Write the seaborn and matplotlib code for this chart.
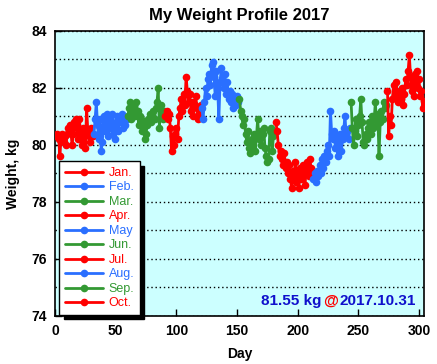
import matplotlib
matplotlib.use("Agg")
import matplotlib.pyplot as plt
import seaborn as sns
import pandas as pd
from matplotlib.lines import Line2D
from matplotlib.offsetbox import TextArea, HPacker, AnchoredOffsetbox

# daily weight readings per month (kg)
jan = [80.3, 80.4, 80.2, 79.6, 80.3, 80.4, 80.1, 80.3, 80.0, 80.4, 80.6, 80.7, 80.5, 80.0, 80.4, 80.8,
       80.9, 80.6, 80.2, 80.9, 80.5, 80.0, 80.6, 80.3, 79.9, 81.3, 80.5, 80.3, 80.1, 80.6, 80.3]
feb = [80.4, 80.9, 81.5, 80.7, 80.2, 80.9, 79.8, 80.1, 81.0, 80.5, 80.8, 81.1, 80.3, 80.9, 80.6, 81.1,
       80.4, 80.2, 80.8, 81.0, 80.5, 80.9, 80.8, 81.1, 80.6, 81.0, 80.7, 80.9]
mar = [81.0, 81.3, 81.5, 80.9, 81.2, 81.4, 81.0, 81.5, 81.2, 80.7, 81.0, 80.9, 80.5, 80.8, 80.2, 80.4,
       80.7, 80.9, 81.1, 80.8, 81.0, 81.2, 80.9, 81.3, 81.5, 82.0, 80.6, 81.4, 81.1, 80.9, 81.2]
apr = [81.0, 81.2, 80.9, 81.1, 80.6, 79.8, 80.3, 80.0, 80.4, 80.6, 80.2, 81.0, 81.3, 81.6, 81.2, 81.8,
       81.4, 82.4, 81.9, 81.5, 81.8, 81.2, 81.5, 81.0, 81.4, 81.7, 81.3, 80.9, 81.1, 81.4]
may = [81.3, 80.9, 81.5, 82.0, 81.7, 82.3, 82.5, 82.1, 82.8, 82.9, 82.4, 81.7, 82.6, 82.0, 80.9, 82.2,
       82.7, 82.3, 82.0, 82.5, 81.8, 82.2, 81.6, 81.9, 81.5, 81.8, 81.3, 81.6, 81.4, 81.7, 81.5]
jun = [81.6, 81.2, 81.0, 80.7, 80.9, 80.4, 80.1, 80.5, 79.9, 79.7, 80.2, 80.0, 80.4, 79.8, 80.3, 80.9,
       80.2, 80.5, 80.0, 80.4, 80.6, 79.9, 79.6, 79.4, 79.5, 80.5, 80.6, 79.8, 80.3, 80.5]
jul = [80.8, 80.5, 80.0, 79.6, 79.8, 79.5, 79.3, 79.7, 79.2, 79.4, 79.0, 79.3, 78.8, 78.5, 79.1, 78.9,
       79.4, 78.7, 79.0, 78.5, 79.2, 78.8, 79.3, 79.0, 78.6, 79.1, 79.4, 78.9, 79.5, 79.2, 79.0]
aug = [78.8, 79.0, 78.7, 79.1, 78.9, 79.3, 79.0, 79.5, 79.2, 79.6, 79.4, 79.8, 80.0, 79.6, 81.2, 80.4,
       80.2, 80.5, 79.9, 80.3, 79.6, 80.1, 80.4, 79.8, 80.2, 80.6, 81.0, 80.3, 80.5, 80.2, 80.6]
sep = [81.5, 80.6, 80.0, 80.5, 80.9, 80.3, 80.7, 81.0, 81.6, 80.8, 80.1, 80.0, 80.4, 80.2, 80.6, 80.8,
       80.4, 81.0, 80.6, 80.9, 81.5, 80.7, 81.1, 79.6, 80.8, 81.2, 80.9, 81.5, 81.3, 81.4]
oct_ = [81.9, 80.3, 81.0, 80.7, 81.6, 82.1, 81.7, 82.2, 81.8, 81.5, 81.9, 81.6, 82.0, 81.4, 81.8, 82.3,
        82.1, 82.6, 83.15, 82.4, 81.9, 82.2, 81.7, 82.5, 82.6, 82.0, 82.3, 81.7, 81.9, 81.3, 81.55]

months = ["Jan.", "Feb.", "Mar.", "Apr.", "May", "Jun.", "Jul.", "Aug.", "Sep.", "Oct."]
month_data = [jan, feb, mar, apr, may, jun, jul, aug, sep, oct_]

red, blue, green = "#ff0000", "#2a6fff", "#339933"
colors = [red, blue, green] * 3 + [red]
palette = dict(zip(months, colors))

rows = []
day = 0
for m, vals in zip(months, month_data):
    for v in vals:
        day += 1
        rows.append({"day": day, "weight": v, "month": m})
df = pd.DataFrame(rows)

sns.set_style("ticks")
plt.rcParams["font.family"] = ["Liberation Sans", "DejaVu Sans"]
plt.rcParams["font.weight"] = "bold"
for k in ["text.color", "axes.labelcolor", "xtick.color", "ytick.color"]:
    plt.rcParams[k] = "black"

fig = plt.figure(figsize=(4.37, 3.64), dpi=100)
ax = fig.add_axes([0.126, 0.132, 0.844, 0.783])
ax.set_facecolor("#ccffff")

sns.lineplot(data=df, x="day", y="weight", hue="month", hue_order=months,
             palette=palette, marker="o", markersize=5.5, markeredgewidth=0,
             linewidth=2, legend=False, ax=ax, zorder=3)

ax.set_xlim(0, 304)
ax.set_ylim(74, 84)
ax.set_yticks([74, 76, 78, 80, 82, 84])
ax.set_yticks(range(75, 84), minor=True)
ax.set_xticks([0, 50, 100, 150, 200, 250, 300])
ax.grid(True, axis="y", which="both", color="black", linestyle=(0, (1, 2)), linewidth=1)
ax.tick_params(direction="in", length=5, width=1, labelsize=10, pad=6)
ax.tick_params(which="minor", length=0)
for s in ax.spines.values():
    s.set_linewidth(1.2)
    s.set_color("black")

ax.set_title("My Weight Profile 2017", fontsize=12, fontweight="bold", pad=8)
ax.set_xlabel("Day", fontsize=10, fontweight="bold", labelpad=6)
ax.set_ylabel("Weight, kg", fontsize=10, fontweight="bold", labelpad=8)

handles = [Line2D([], [], color=c, marker="o", markersize=5.5, markeredgewidth=0, linewidth=2)
           for c in colors]
leg = ax.legend(handles, months, loc="lower left", bbox_to_anchor=(0.012, 0.003),
                borderaxespad=0, fontsize=9, handlelength=3.0, handletextpad=0.5,
                labelspacing=0.2, borderpad=0.45,
                fancybox=False, framealpha=1, edgecolor="black",
                shadow={"color": "black", "alpha": 1, "ox": 3, "oy": -3})
leg.get_frame().set_linewidth(1)
for t, c in zip(leg.get_texts(), colors):
    t.set_color(c)
    t.set_fontweight("normal")
leg.set_zorder(5)

# latest reading annotation
tp = dict(fontsize=11, fontweight="bold")
box = HPacker(children=[TextArea("81.55 kg", textprops=dict(color="#1010cc", **tp)),
                        TextArea("@", textprops=dict(color="#ff0000", fontsize=11)),
                        TextArea("2017.10.31", textprops=dict(color="#1010cc", **tp))],
              align="baseline", pad=0, sep=1)
anchored = AnchoredOffsetbox(loc="lower right", child=box, pad=0.2, borderpad=0.4, frameon=False)
ax.add_artist(anchored)

fig.savefig("out.png", dpi=100)
